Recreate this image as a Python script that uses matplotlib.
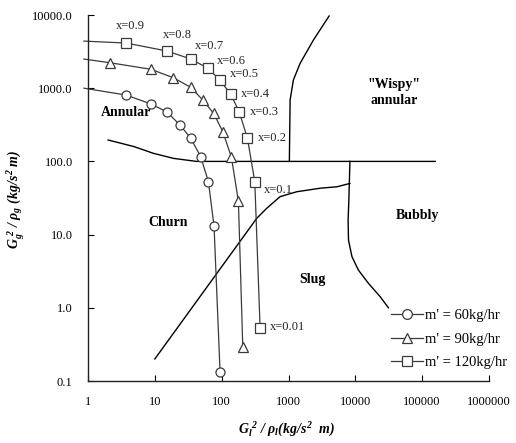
import numpy as np
import matplotlib
matplotlib.use("Agg")
import matplotlib.pyplot as plt

# fonts: Times-like serif everywhere, bold italic math for the axis titles
plt.rcParams['font.family'] = ['Liberation Serif', 'DejaVu Serif']
plt.rcParams['mathtext.fontset'] = 'custom'
plt.rcParams['mathtext.it'] = 'Liberation Serif:bold:italic'
plt.rcParams['mathtext.rm'] = 'Liberation Serif:bold:italic'
plt.rcParams['mathtext.bf'] = 'Liberation Serif:bold:italic'

# m' = 60 kg/hr (circles)
x60 = [3.7, 8.8, 15.2, 23.8, 34.5, 48.6, 63.3, 76.9, 94.6]
y60 = [807, 608, 473, 314, 207, 116, 52.8, 13.1, 0.134]
# m' = 90 kg/hr (triangles)
x90 = [2.13, 8.8, 18.9, 34.5, 52.1, 75.7, 104, 140, 178, 207]
y90 = [2228, 1811, 1390, 1028, 690, 454, 255, 114, 28.5, 0.29]
# m' = 120 kg/hr (squares)
x120 = [3.71, 15.2, 34.5, 62.6, 93.7, 137, 184, 243, 313, 376]
y120 = [4140, 3220, 2505, 1871, 1294, 826, 469, 207, 52.8, 0.53]
quality_labels = ['x=0.9', 'x=0.8', 'x=0.7', 'x=0.6', 'x=0.5',
                  'x=0.4', 'x=0.3', 'x=0.2', 'x=0.1', 'x=0.01']

# where each smooth curve starts at the left edge
curve_start_x = 0.87
curve_start_y = {'60': 1000, '90': 2500, '120': 4400}

# regime boundaries
ann_churn_x = [2.0, 4.8, 9.5, 19, 42, 156700]
ann_churn_y = [196, 160, 129, 110, 100, 100]
wispy_x = [1030, 1057, 1183, 1492, 2360, 4050]
wispy_y = [100, 690, 1294, 2188, 4550, 9690]
bubbly_x = [8300, 8000, 7800, 7900, 8900, 11100, 15700, 23500, 31300]
bubbly_y = [100, 29.7, 15.9, 8.4, 5.0, 3.28, 2.16, 1.42, 1.0]
slug_x = [10, 335, 473, 748, 1330, 2970, 5290, 8280]
slug_y = [0.2, 16.7, 22.9, 33, 38.5, 43, 45, 50]

xticks = [1, 10, 100, 1000, 10000, 100000, 1000000]
xtick_labels = ['1', '10', '100', '1000', '10000', '100000', '1000000']
yticks = [0.1, 1, 10, 100, 1000, 10000]
ytick_labels = ['0.1', '1.0', '10.0', '100.0', '1000.0', '10000.0']

fig = plt.figure(figsize=(5.16, 4.43), dpi=100)
ax = fig.add_axes([88 / 516, 62 / 443, 401 / 516, 366 / 443])
ax.set_xscale('log')
ax.set_yscale('log')
ax.set_xlim(1, 1e6)
ax.set_ylim(0.1, 1e4)

bcol = 'black'
scol = '#3a3a3a'

# boundaries
for bx, by in [(ann_churn_x, ann_churn_y), (wispy_x, wispy_y),
               (bubbly_x, bubbly_y), (slug_x, slug_y)]:
    ax.plot(bx, by, color=bcol, lw=1.0)

# the three flow-rate curves
series = [('60', x60, y60, 'o', "m' = 60kg/hr"),
          ('90', x90, y90, '^', "m' = 90kg/hr"),
          ('120', x120, y120, 's', "m' = 120kg/hr")]
handles = []
for key, xs, ys, mk, lab in series:
    ax.plot([curve_start_x] + xs, [curve_start_y[key]] + ys, color=scol,
            lw=0.9, clip_on=False)
    ax.plot(xs, ys, ls='none', marker=mk, ms=6.5, mfc='white', mec=scol,
            mew=0.9, clip_on=False)
    h, = ax.plot([], [], color=scol, lw=0.9, marker=mk, ms=7, mfc='white',
                 mec=scol, mew=0.9, label=lab)
    handles.append(h)

# quality labels next to the 120 kg/hr points
label_offsets = [(-10, 17), (-4, 16), (4, 13), (9, 7), (10, 6),
                 (10, 0), (11, 0), (10, 0), (9, -8), (10, 1)]
for qx, qy, qt, off in zip(x120, y120, quality_labels, label_offsets):
    ax.annotate(qt, (qx, qy), xytext=off, textcoords='offset pixels',
                ha='left', va='center', fontsize=9, color='#222222')

# regime names
rb = dict(fontsize=10, fontweight='bold', ha='center', va='center')
ax.text(3.68, 469, 'Annular', **rb)
ax.text(15.9, 14.7, 'Churn', **rb)
ax.text(2310, 2.45, 'Slug', **rb)
ax.text(86300, 18.1, 'Bubbly', **rb)
ax.text(38100, 873, '"Wispy"\nannular', linespacing=1.35, **rb)

ax.set_xticks(xticks)
ax.set_xticklabels(xtick_labels)
ax.set_yticks(yticks)
ax.set_yticklabels(ytick_labels)
ax.minorticks_off()
ax.tick_params(direction='in', length=4, width=0.8, labelsize=9)
ax.tick_params(axis='x', pad=11)
ax.tick_params(axis='y', pad=11)
for s in ['top', 'right']:
    ax.spines[s].set_visible(False)
for s in ['left', 'bottom']:
    ax.spines[s].set_linewidth(1.0)
    ax.spines[s].set_color('#222222')

fig.text(287 / 516, 1 - 429 / 443, r'$G_{l}^{\ 2}\ /\ \rho_{l}(kg/s^{2}\ \ m)$',
         ha='center', va='center', fontsize=10)
fig.text(16 / 516, 1 - 199 / 443, r'$G_{g}^{\ 2}\ /\ \rho_{g}\ (kg/s^{2}\ m)$',
         ha='center', va='center', rotation=90, fontsize=10)

ax.legend(handles=handles, loc='upper left', frameon=False,
          bbox_to_anchor=(391 / 516, 1 - 309 / 443),
          bbox_transform=fig.transFigure, fontsize=10.5, handlelength=2.2,
          handletextpad=0.15, labelspacing=0.7, borderpad=0, borderaxespad=0)

fig.savefig('out.png', dpi=100)
